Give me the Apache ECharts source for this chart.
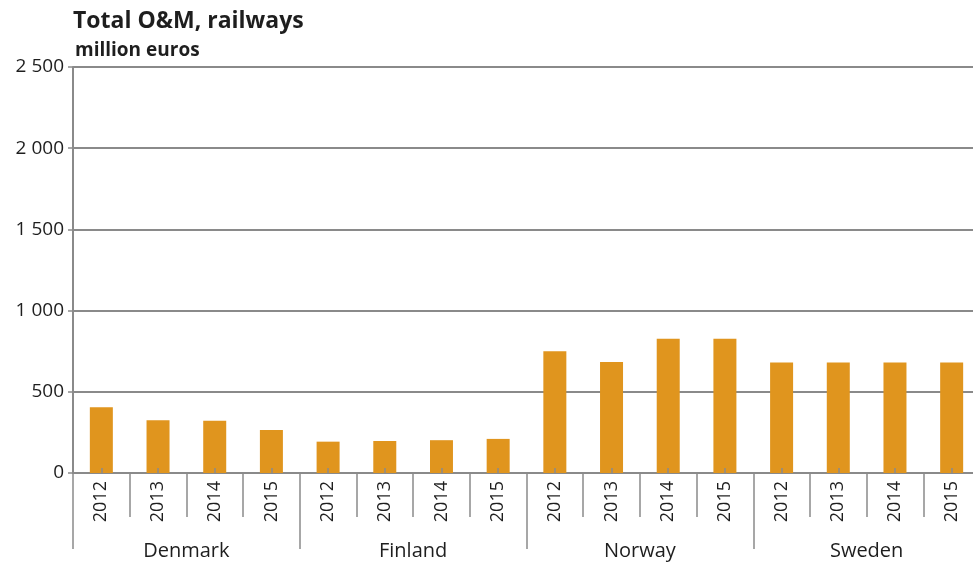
<!DOCTYPE html>
<html>
<head>
<meta charset="utf-8">
<script src="https://cdn.jsdelivr.net/npm/echarts@6/dist/echarts.min.js"></script>
<style>
  html, body { margin: 0; padding: 0; background: #fff; }
  #chart { width: 973px; height: 567px; }
</style>
</head>
<body>
<div id="chart"></div>
<script>
// Railway operation & maintenance spending, million euros
const countries = ['Denmark', 'Finland', 'Norway', 'Sweden'];
const years = ['2012', '2013', '2014', '2015'];
const denmark = [405, 325, 321, 265];
const finland = [193, 197, 202, 210];
const norway = [749, 683, 827, 827];
const sweden = [681, 681, 681, 681];
const yTicks = [0, 500, 1000, 1500, 2000, 2500];

const FONT = '"Open Sans", "Noto Sans", sans-serif';
const GREY = '#8a8a8a';

// one category per country/year pair
const categories = [];
countries.forEach(c => years.forEach(y => categories.push(c + '|' + y)));
const values = [].concat(denmark, finland, norway, sweden);

const chart = echarts.init(document.getElementById('chart'));
chart.setOption({
  animation: false,
  backgroundColor: '#fff',
  title: [
    { text: 'Total O&M, railways', left: 68, top: 5,
      textStyle: { fontFamily: FONT, fontSize: 23, fontWeight: 'bold', color: '#1e1e1e' } },
    { text: 'million euros', left: 70, top: 36,
      textStyle: { fontFamily: FONT, fontSize: 19, fontWeight: 'bold', color: '#1e1e1e' } }
  ],
  // the last category runs slightly past the right edge of the canvas
  grid: { left: 73, width: 907, top: 67, bottom: 94, containLabel: false, outerBoundsMode: 'none' },
  xAxis: [
    {
      // year labels with ticks at category boundaries
      type: 'category', position: 'bottom', offset: 0,
      data: categories,
      axisLine: { show: true, lineStyle: { color: GREY, width: 2 } },
      axisTick: { show: true, interval: 0, length: 44, lineStyle: { color: GREY, width: 1.5 } },
      axisLabel: {
        interval: 0, rotate: 90, margin: 8,
        fontFamily: FONT, fontSize: 18, color: '#1e1e1e',
        formatter: v => v.split('|')[1]
      },
      splitLine: { show: false }
    },
    {
      // short inward ticks at bar centres
      type: 'category', position: 'bottom', offset: 0, z: 5,
      data: categories,
      axisLine: { show: false },
      axisTick: { show: true, interval: 0, alignWithLabel: true, inside: true, length: 5,
        lineStyle: { color: GREY, width: 1.5 } },
      axisLabel: { show: false },
      splitLine: { show: false }
    },
    {
      // country groups
      type: 'category', position: 'bottom', offset: 0,
      data: countries,
      axisLine: { show: false },
      axisTick: { show: true, interval: 0, length: 76, lineStyle: { color: GREY, width: 1.5 } },
      axisLabel: { interval: 0, margin: 68, fontFamily: FONT, fontSize: 20, color: '#1e1e1e' },
      splitLine: { show: false }
    }
  ],
  yAxis: {
    type: 'value', min: yTicks[0], max: yTicks[yTicks.length - 1], interval: 500,
    axisLine: { show: true, lineStyle: { color: GREY, width: 2 } },
    axisTick: { show: true, length: 5, lineStyle: { color: GREY, width: 1.5 } },
    axisLabel: {
      margin: 9, fontFamily: FONT, fontSize: 19, color: '#1e1e1e',
      formatter: v => String(v).replace(/\B(?=(\d{3})+(?!\d))/g, ' ')
    },
    splitLine: { show: true, lineStyle: { color: GREY, width: 2 } }
  },
  series: [{
    type: 'bar',
    xAxisIndex: 0,
    data: values,
    barWidth: 23,
    itemStyle: { color: '#E0951E' }
  }]
});
</script>
</body>
</html>
